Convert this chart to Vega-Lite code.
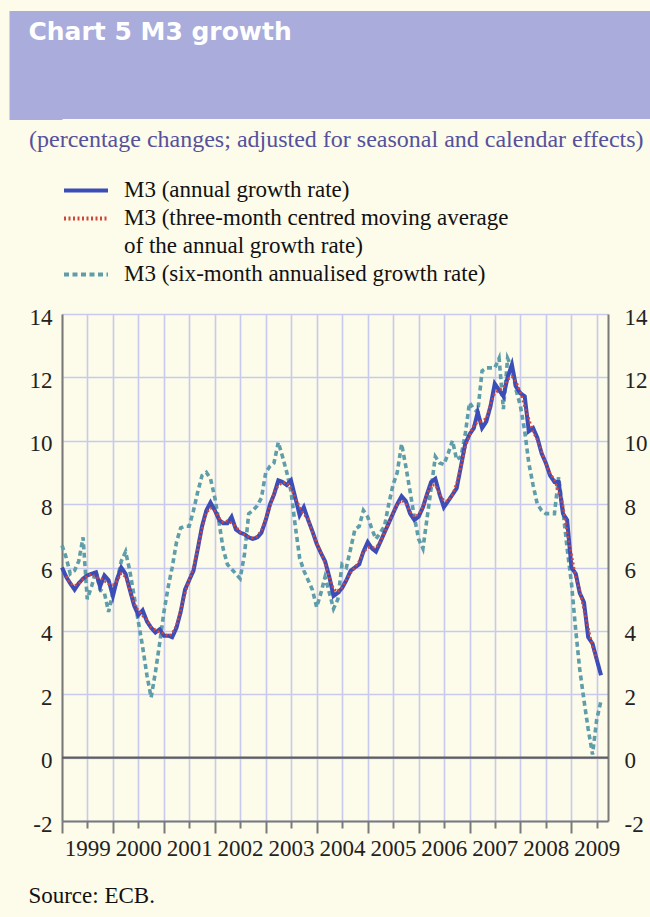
{
  "$schema": "https://vega.github.io/schema/vega-lite/v6.json",
  "background": "#FDFBEA",
  "padding": {"left": 8, "top": 10, "right": 0, "bottom": 12},
  "spacing": 8,
  "config": {"view": {"stroke": null}, "font": "Liberation Serif"},
  "title": {"text": "Source: ECB.", "orient": "bottom", "anchor": "start", "frame": "bounds", "dx": 20, "offset": 20, "font": "Liberation Serif", "fontSize": 23, "fontWeight": "normal", "color": "#111111"},
  "resolve": {"scale": {"color": "independent", "strokeDash": "independent", "y": "independent"}, "legend": {"color": "independent", "strokeDash": "independent"}},
  "vconcat": [
    {
      "width": 588,
      "height": 108,
      "view": {"fill": "#AAACDC", "stroke": null},
      "data": {"values": [{"t": 1}]},
      "mark": {"type": "rule", "strokeOpacity": 0},
      "encoding": {
        "y": {
          "datum": 0, "type": "quantitative",
          "scale": {"domain": [0, 108], "nice": false},
          "axis": {"orient": "left", "tickCount": 108, "ticks": true, "tickSize": 53, "tickWidth": 1.2, "tickColor": "#AAACDC", "tickOpacity": 1, "labels": false, "domain": false, "grid": false, "title": null}
        }
      },
      "title": {"text": "Chart 5 M3 growth", "anchor": "start", "orient": "top", "frame": "bounds", "offset": -35, "dx": 20, "font": "DejaVu Sans", "fontSize": 25, "fontWeight": "bold", "color": "#FFFFFF", "zindex": 1}
    },
    {
      "width": 546,
      "height": 507,
      "title": {"text": "(percentage changes; adjusted for seasonal and calendar effects)", "anchor": "start", "frame": "bounds", "dx": 20, "offset": 27, "font": "Liberation Serif", "fontSize": 24, "fontWeight": "normal", "color": "#55519C"},
      "data": {"values": [
        {"d":"1999-01","a":6.0,"s":6.7},
        {"d":"1999-02","a":5.7,"c":5.73,"s":6.3},
        {"d":"1999-03","a":5.5,"c":5.5,"s":5.8},
        {"d":"1999-04","a":5.3,"c":5.43,"s":5.9},
        {"d":"1999-05","a":5.5,"c":5.48,"s":6.2},
        {"d":"1999-06","a":5.65,"c":5.63,"s":6.95},
        {"d":"1999-07","a":5.75,"c":5.73,"s":5.0},
        {"d":"1999-08","a":5.8,"c":5.8,"s":5.4},
        {"d":"1999-09","a":5.85,"c":5.68,"s":5.9},
        {"d":"1999-10","a":5.4,"c":5.67,"s":5.3},
        {"d":"1999-11","a":5.75,"c":5.58,"s":5.2},
        {"d":"1999-12","a":5.6,"c":5.48,"s":4.6},
        {"d":"2000-01","a":5.1,"c":5.45,"s":5.2},
        {"d":"2000-02","a":5.65,"c":5.58,"s":5.6},
        {"d":"2000-03","a":6.0,"c":5.82,"s":6.2},
        {"d":"2000-04","a":5.8,"c":5.7,"s":6.5},
        {"d":"2000-05","a":5.3,"c":5.3,"s":5.9},
        {"d":"2000-06","a":4.8,"c":4.87,"s":5.1},
        {"d":"2000-07","a":4.5,"c":4.65,"s":4.3},
        {"d":"2000-08","a":4.65,"c":4.48,"s":3.5},
        {"d":"2000-09","a":4.3,"c":4.35,"s":2.6},
        {"d":"2000-10","a":4.1,"c":4.12,"s":1.9},
        {"d":"2000-11","a":3.95,"c":4.03,"s":2.7},
        {"d":"2000-12","a":4.05,"c":3.95,"s":3.6},
        {"d":"2001-01","a":3.85,"c":3.92,"s":4.6},
        {"d":"2001-02","a":3.85,"c":3.83,"s":5.4},
        {"d":"2001-03","a":3.8,"c":3.92,"s":6.0},
        {"d":"2001-04","a":4.1,"c":4.17,"s":6.8},
        {"d":"2001-05","a":4.6,"c":4.67,"s":7.25},
        {"d":"2001-06","a":5.3,"c":5.17,"s":7.3},
        {"d":"2001-07","a":5.6,"c":5.6,"s":7.3},
        {"d":"2001-08","a":5.9,"c":6.03,"s":7.8},
        {"d":"2001-09","a":6.6,"c":6.6,"s":8.4},
        {"d":"2001-10","a":7.3,"c":7.23,"s":8.9},
        {"d":"2001-11","a":7.8,"c":7.72,"s":9.0},
        {"d":"2001-12","a":8.05,"c":7.88,"s":8.8},
        {"d":"2002-01","a":7.8,"c":7.78,"s":8.2},
        {"d":"2002-02","a":7.5,"c":7.57,"s":7.4},
        {"d":"2002-03","a":7.4,"c":7.43,"s":6.6},
        {"d":"2002-04","a":7.4,"c":7.47,"s":6.1},
        {"d":"2002-05","a":7.6,"c":7.4,"s":5.95},
        {"d":"2002-06","a":7.2,"c":7.3,"s":5.8},
        {"d":"2002-07","a":7.1,"c":7.12,"s":5.65},
        {"d":"2002-08","a":7.05,"c":7.03,"s":6.4},
        {"d":"2002-09","a":6.95,"c":6.97,"s":7.7},
        {"d":"2002-10","a":6.9,"c":6.93,"s":7.8},
        {"d":"2002-11","a":6.95,"c":6.98,"s":7.95},
        {"d":"2002-12","a":7.1,"c":7.18,"s":8.2},
        {"d":"2003-01","a":7.5,"c":7.53,"s":9.0},
        {"d":"2003-02","a":8.0,"c":7.93,"s":9.2},
        {"d":"2003-03","a":8.3,"c":8.35,"s":9.3},
        {"d":"2003-04","a":8.75,"c":8.58,"s":9.95},
        {"d":"2003-05","a":8.7,"c":8.68,"s":9.5},
        {"d":"2003-06","a":8.6,"c":8.68,"s":9.0},
        {"d":"2003-07","a":8.75,"c":8.52,"s":8.4},
        {"d":"2003-08","a":8.2,"c":8.2,"s":7.3},
        {"d":"2003-09","a":7.65,"c":7.92,"s":6.3},
        {"d":"2003-10","a":7.9,"c":7.68,"s":5.9},
        {"d":"2003-11","a":7.5,"c":7.52,"s":5.6},
        {"d":"2003-12","a":7.15,"c":7.13,"s":5.3},
        {"d":"2004-01","a":6.75,"c":6.78,"s":4.75},
        {"d":"2004-02","a":6.45,"c":6.47,"s":5.2},
        {"d":"2004-03","a":6.2,"c":6.12,"s":5.7},
        {"d":"2004-04","a":5.7,"c":5.67,"s":5.2},
        {"d":"2004-05","a":5.1,"c":5.33,"s":4.7},
        {"d":"2004-06","a":5.2,"c":5.22,"s":5.0},
        {"d":"2004-07","a":5.35,"c":5.38,"s":6.1},
        {"d":"2004-08","a":5.6,"c":5.62,"s":6.0},
        {"d":"2004-09","a":5.9,"c":5.83,"s":6.6},
        {"d":"2004-10","a":6.0,"c":6.0,"s":7.2},
        {"d":"2004-11","a":6.1,"c":6.2,"s":7.3},
        {"d":"2004-12","a":6.5,"c":6.47,"s":7.8},
        {"d":"2005-01","a":6.8,"c":6.63,"s":7.6},
        {"d":"2005-02","a":6.6,"c":6.63,"s":7.2},
        {"d":"2005-03","a":6.5,"c":6.63,"s":6.9},
        {"d":"2005-04","a":6.8,"c":6.8,"s":7.1},
        {"d":"2005-05","a":7.1,"c":7.1,"s":7.3},
        {"d":"2005-06","a":7.4,"c":7.4,"s":8.0},
        {"d":"2005-07","a":7.7,"c":7.7,"s":8.6},
        {"d":"2005-08","a":8.0,"c":7.98,"s":9.0},
        {"d":"2005-09","a":8.25,"c":8.12,"s":9.9},
        {"d":"2005-10","a":8.1,"c":8.02,"s":9.2},
        {"d":"2005-11","a":7.7,"c":7.77,"s":8.4},
        {"d":"2005-12","a":7.5,"c":7.6,"s":7.6},
        {"d":"2006-01","a":7.6,"c":7.67,"s":6.9},
        {"d":"2006-02","a":7.9,"c":7.93,"s":6.6},
        {"d":"2006-03","a":8.3,"c":8.3,"s":7.5},
        {"d":"2006-04","a":8.7,"c":8.6,"s":8.5},
        {"d":"2006-05","a":8.8,"c":8.6,"s":9.5},
        {"d":"2006-06","a":8.3,"c":8.33,"s":9.3},
        {"d":"2006-07","a":7.9,"c":8.1,"s":9.25},
        {"d":"2006-08","a":8.1,"c":8.1,"s":9.6},
        {"d":"2006-09","a":8.3,"c":8.3,"s":10.0},
        {"d":"2006-10","a":8.5,"c":8.67,"s":9.4},
        {"d":"2006-11","a":9.2,"c":9.2,"s":9.5},
        {"d":"2006-12","a":9.9,"c":9.77,"s":10.2},
        {"d":"2007-01","a":10.2,"c":10.17,"s":11.2},
        {"d":"2007-02","a":10.4,"c":10.5,"s":11.0},
        {"d":"2007-03","a":10.9,"c":10.57,"s":10.9},
        {"d":"2007-04","a":10.4,"c":10.63,"s":12.2},
        {"d":"2007-05","a":10.6,"c":10.7,"s":12.3},
        {"d":"2007-06","a":11.1,"c":11.17,"s":12.3},
        {"d":"2007-07","a":11.8,"c":11.5,"s":12.3},
        {"d":"2007-08","a":11.6,"c":11.6,"s":12.6},
        {"d":"2007-09","a":11.4,"c":11.67,"s":11.0},
        {"d":"2007-10","a":12.0,"c":11.93,"s":12.6},
        {"d":"2007-11","a":12.4,"c":12.03,"s":12.3},
        {"d":"2007-12","a":11.7,"c":11.87,"s":11.6},
        {"d":"2008-01","a":11.5,"c":11.53,"s":11.1},
        {"d":"2008-02","a":11.4,"c":11.07,"s":10.3},
        {"d":"2008-03","a":10.3,"c":10.7,"s":9.3},
        {"d":"2008-04","a":10.4,"c":10.27,"s":8.6},
        {"d":"2008-05","a":10.1,"c":10.03,"s":8.0},
        {"d":"2008-06","a":9.6,"c":9.67,"s":7.8},
        {"d":"2008-07","a":9.3,"c":9.27,"s":7.7},
        {"d":"2008-08","a":8.9,"c":8.97,"s":7.7},
        {"d":"2008-09","a":8.7,"c":8.77,"s":7.7},
        {"d":"2008-10","a":8.7,"c":8.37,"s":8.85},
        {"d":"2008-11","a":7.7,"c":7.97,"s":7.8},
        {"d":"2008-12","a":7.5,"c":7.07,"s":6.6},
        {"d":"2009-01","a":6.0,"c":6.43,"s":5.5},
        {"d":"2009-02","a":5.8,"c":5.67,"s":4.0},
        {"d":"2009-03","a":5.2,"c":5.3,"s":2.8},
        {"d":"2009-04","a":4.9,"c":4.63,"s":1.8},
        {"d":"2009-05","a":3.8,"c":4.1,"s":0.9},
        {"d":"2009-06","a":3.6,"c":3.5,"s":0.1},
        {"d":"2009-07","a":3.1,"c":3.1,"s":1.2},
        {"d":"2009-08","a":2.6,"s":1.8}
      ]},
      "layer": [
        {
          "data": {"values": [{"z": 0}]},
          "mark": {"type": "rule", "color": "#5E5E5E", "strokeWidth": 2.2},
          "encoding": {"y": {"field": "z", "type": "quantitative", "axis": null}}
        },
        {
          "mark": {"type": "line", "strokeWidth": 3.6},
          "encoding": {
            "x": {
              "field": "d", "type": "temporal",
              "scale": {"type": "utc", "domain": [{"year": 1999, "month": 1, "date": 1, "utc": true}, {"year": 2009, "month": 9, "date": 20, "utc": true}]},
              "axis": {
                "orient": "bottom", "title": null,
                "tickCount": {"interval": "month", "step": 6},
                "grid": true, "gridColor": "#C8C9EF", "gridWidth": 1.6,
                "ticks": true, "tickColor": "#7A7A7A", "tickWidth": 2,
                "tickSize": {"condition": {"test": "utcmonth(datum.value) == 0", "value": 12}, "value": 7},
                "domain": true, "domainColor": "#7A7A7A", "domainWidth": 2,
                "labelExpr": "utcmonth(datum.value) == 6 ? utcFormat(datum.value, '%Y') : ''",
                "labelFont": "Liberation Serif", "labelFontSize": 23, "labelColor": "#222222",
                "labelPadding": 9, "labelOverlap": false, "labelFlush": false, "labelAngle": 0
              }
            },
            "y": {
              "field": "s", "type": "quantitative",
              "scale": {"domain": [-2, 14], "nice": false, "zero": false},
              "axis": {
                "orient": "left", "values": [-2, 0, 2, 4, 6, 8, 10, 12, 14],
                "grid": true, "gridColor": "#C8C9EF", "gridWidth": 1.6,
                "ticks": false, "tickSize": 0,
                "domain": true, "domainColor": "#7A7A7A", "domainWidth": 2,
                "labelExpr": "'' + datum.value",
                "labelFont": "Liberation Serif", "labelFontSize": 23, "labelColor": "#222222",
                "labelPadding": 10, "labelOffset": 3,
                "title": " ", "titleX": -53, "titleY": 0, "titleAngle": 0, "titleAlign": "left", "titleFontSize": 8
              }
            },
            "color": {
              "datum": "M3 (six-month annualised growth rate)", "type": "nominal",
              "scale": {"domain": ["M3 (annual growth rate)", "M3 (three-month centred moving average of the annual growth rate)", "M3 (six-month annualised growth rate)"], "range": ["#3B4DB8", "#D2453A", "#5E9DA9"]},
              "legend": {
                "orient": "top", "offset": 28, "title": null, "direction": "vertical", "columns": 1,
                "symbolType": "stroke", "symbolSize": 1936, "symbolStrokeWidth": 4,
                "labelFont": "Liberation Serif", "labelFontSize": 23, "labelColor": "#111111",
                "labelOffset": 14, "rowPadding": 5, "padding": 0, "labelLimit": 0,
                "labelBaseline": "top",
                "labelExpr": "datum.label == 'M3 (three-month centred moving average of the annual growth rate)' ? ['M3 (three-month centred moving average', 'of the annual growth rate)'] : datum.label",
                "encoding": {
                  "symbols": {"y": {"value": 11.5}},
                  "labels": {"y": {"value": 0}, "lineHeight": {"value": 28}}
                }
              }
            },
            "strokeDash": {
              "datum": "M3 (six-month annualised growth rate)", "type": "nominal",
              "scale": {"domain": ["M3 (annual growth rate)", "M3 (three-month centred moving average of the annual growth rate)", "M3 (six-month annualised growth rate)"], "range": [[1, 0], [2, 2.5], [5, 3.5]]}
            }
          }
        },
        {
          "mark": {"type": "line", "strokeWidth": 4},
          "encoding": {
            "x": {"field": "d", "type": "temporal"},
            "y": {
              "field": "a", "type": "quantitative",
              "axis": {
                "orient": "right", "values": [-2, 0, 2, 4, 6, 8, 10, 12, 14],
                "grid": false, "ticks": false, "tickSize": 0,
                "domain": true, "domainColor": "#7A7A7A", "domainWidth": 2,
                "labelExpr": "'' + datum.value",
                "labelFont": "Liberation Serif", "labelFontSize": 23, "labelColor": "#222222",
                "labelPadding": 16, "labelOffset": 3, "title": null
              }
            },
            "color": {"datum": "M3 (annual growth rate)", "type": "nominal"},
            "strokeDash": {"datum": "M3 (annual growth rate)", "type": "nominal"}
          }
        },
        {
          "mark": {"type": "line", "strokeWidth": 2.6},
          "encoding": {
            "x": {"field": "d", "type": "temporal"},
            "y": {"field": "c", "type": "quantitative", "axis": null},
            "color": {"datum": "M3 (three-month centred moving average of the annual growth rate)", "type": "nominal"},
            "strokeDash": {"datum": "M3 (three-month centred moving average of the annual growth rate)", "type": "nominal"}
          }
        }
      ],
      "resolve": {"axis": {"y": "independent"}}
    }
  ]
}
